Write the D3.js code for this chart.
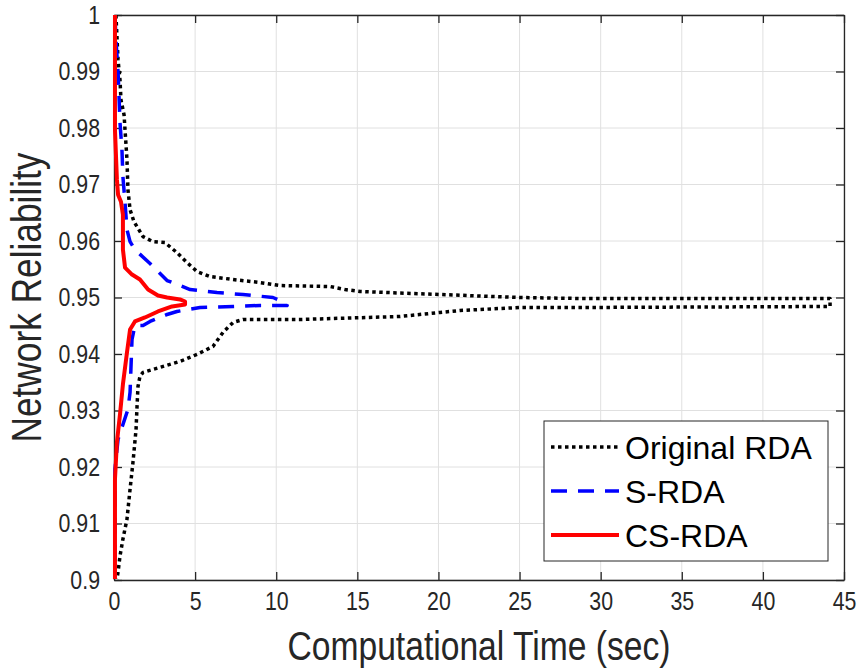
<!DOCTYPE html>
<html>
<head>
<meta charset="utf-8">
<script src="https://cdn.jsdelivr.net/npm/d3@7"></script>
<style>
  body { margin: 0; background: #fff; }
  svg { display: block; font-family: "Liberation Sans", Arial, sans-serif; }
</style>
</head>
<body>
<div id="chart"></div>
<script>
// tick values
const xTickValues = [0, 5, 10, 15, 20, 25, 30, 35, 40, 45];
const yTickValues = [0.9, 0.91, 0.92, 0.93, 0.94, 0.95, 0.96, 0.97, 0.98, 0.99, 1];

const seriesNames = ["Original RDA", "S-RDA", "CS-RDA"];

// original RDA: upper bound out to the end, then lower bound back
const origTime = [0.12, 0.25, 0.37, 0.43, 0.62, 0.68, 0.8, 0.86, 0.99, 1.23, 1.79, 2.4, 3.14, 3.88,
  4.5, 5.12, 5.92, 7.34, 9.0, 10.23, 13.32, 14.24, 15.17, 20.1, 25.03, 28.73, 44.14,
  44.14, 28.73, 25.03, 21.33, 20.1, 17.63, 11.47, 7.95, 7.34, 6.72, 6.1, 5.12, 4.07, 2.84,
  1.79, 1.6, 1.48, 1.42, 1.36, 1.17, 0.99, 0.8, 0.55, 0.37, 0.25, 0.18];
const origRel = [1.0, 0.99205, 0.98852, 0.98498, 0.98233, 0.97968, 0.97438, 0.96908, 0.96555,
  0.96343, 0.96078, 0.95989, 0.95972, 0.95795, 0.95618, 0.95459, 0.95371, 0.95318, 0.95265,
  0.95212, 0.95194, 0.95141, 0.95106, 0.95053, 0.95, 0.94982, 0.94982,
  0.94841, 0.94823, 0.94823, 0.9477, 0.94735, 0.94664, 0.94611, 0.94611, 0.94558, 0.94382,
  0.94134, 0.93993, 0.93869, 0.93763, 0.93675, 0.93604, 0.93428, 0.93074, 0.92668, 0.92085,
  0.91608, 0.91078, 0.90724, 0.90424, 0.90141, 0.90018];

// S-RDA
const sTime = [0.06, 0.12, 0.25, 0.31, 0.37, 0.49, 0.55, 0.68, 0.8, 0.99, 1.29, 2.22, 3.27, 4.69,
  6.35, 7.95, 9.8, 10.54, 10.67, 9.0, 7.34, 5.3, 3.88, 3.27, 2.22, 1.79, 1.29, 1.11, 0.99,
  0.86, 0.25, 0.06, 0.06];
const sRel = [1.0, 0.99558, 0.98993, 0.98551, 0.98092, 0.97615, 0.97138, 0.96678, 0.96201,
  0.95989, 0.95848, 0.95601, 0.953, 0.95141, 0.95088, 0.95053, 0.95, 0.94912, 0.94859,
  0.94859, 0.94841, 0.94823, 0.94753, 0.947, 0.94576, 0.94505, 0.94505, 0.94258, 0.93322,
  0.93021, 0.92491, 0.91961, 0.90018];

// CS-RDA
const csTime = [0.06, 0.06, 0.18, 0.25, 0.43, 0.55, 0.55, 0.68, 1.11, 1.6, 2.1, 2.71, 3.27, 4.07,
  4.38, 4.38, 3.58, 2.71, 1.91, 1.29, 0.99, 0.8, 0.55, 0.37, 0.18, 0.06, 0.06];
const csRel = [1.0, 0.97968, 0.97085, 0.9682, 0.96696, 0.96466, 0.95848, 0.9553, 0.95406,
  0.95318, 0.95141, 0.95035, 0.95, 0.94965, 0.94929, 0.94876, 0.94841, 0.94753, 0.94647,
  0.94576, 0.94435, 0.94028, 0.93463, 0.92933, 0.92438, 0.91784, 0.90018];

const width = 865;
const height = 671;
const margin = { top: 15, right: 21, bottom: 91, left: 114 };
const visWidth = width - margin.left - margin.right;
const visHeight = height - margin.top - margin.bottom;

const axisColor = "#262626";
// axis texts in the reference are a condensed face; squeeze them
const squeeze = 0.82;
const condense = (sel) =>
  sel.each(function () {
    const w = this.getComputedTextLength();
    d3.select(this).attr("textLength", w * squeeze).attr("lengthAdjust", "spacingAndGlyphs");
  });

// scales
const x = d3.scaleLinear().domain([0, 45]).range([0, visWidth]);
const y = d3.scaleLinear().domain([0.9, 1]).range([visHeight, 0]);

const svg = d3
  .select("#chart")
  .append("svg")
  .attr("width", width)
  .attr("height", height);

const g = svg
  .append("g")
  .attr("transform", `translate(${margin.left}, ${margin.top})`);

// grid
g.append("g")
  .selectAll("line")
  .data(xTickValues)
  .join("line")
  .attr("stroke", "#e0e0e0")
  .attr("x1", (d) => x(d))
  .attr("x2", (d) => x(d))
  .attr("y1", 0)
  .attr("y2", visHeight);

g.append("g")
  .selectAll("line")
  .data(yTickValues)
  .join("line")
  .attr("stroke", "#e0e0e0")
  .attr("x1", 0)
  .attr("x2", visWidth)
  .attr("y1", (d) => y(d))
  .attr("y2", (d) => y(d));

// axes, ticks pointing inward like matlab
const tickLen = 8;
const styleAxis = (sel) => {
  sel.select(".domain").attr("stroke", axisColor).attr("stroke-width", 1.3);
  sel.selectAll(".tick line").attr("stroke", axisColor).attr("stroke-width", 1.3);
  sel.selectAll(".tick text").attr("fill", axisColor).attr("font-size", 26)
    .attr("font-family", '"Liberation Sans", Arial, sans-serif')
    .call(condense);
};

g.append("g")
  .attr("transform", `translate(0,${visHeight})`)
  .call(d3.axisBottom(x).tickValues(xTickValues).tickSize(-tickLen).tickPadding(12).tickSizeOuter(0))
  .call(styleAxis);

g.append("g")
  .call(d3.axisTop(x).tickValues(xTickValues).tickSize(-tickLen).tickFormat("").tickSizeOuter(0))
  .call(styleAxis);

g.append("g")
  .call(d3.axisLeft(y).tickValues(yTickValues).tickSize(-tickLen).tickPadding(14)
    .tickFormat(d3.format("~g")).tickSizeOuter(0))
  .call(styleAxis);

g.append("g")
  .attr("transform", `translate(${visWidth},0)`)
  .call(d3.axisRight(y).tickValues(yTickValues).tickSize(-tickLen).tickFormat("").tickSizeOuter(0))
  .call(styleAxis);

// axis titles
g.append("text")
  .attr("x", visWidth / 2)
  .attr("y", visHeight + 80)
  .attr("text-anchor", "middle")
  .attr("fill", axisColor)
  .attr("font-size", 41)
  .text("Computational Time (sec)")
  .call(condense);

g.append("text")
  .attr("transform", `translate(${-73},${visHeight / 2}) rotate(-90)`)
  .attr("text-anchor", "middle")
  .attr("fill", axisColor)
  .attr("font-size", 43)
  .text("Network Reliability")
  .call(condense);

// lines
const series = [
  { name: seriesNames[0], t: origTime, r: origRel, color: "#000000", width: 3.5, dash: "3.5,3.5" },
  { name: seriesNames[1], t: sTime, r: sRel, color: "#0000ff", width: 3.5, dash: "16,11" },
  { name: seriesNames[2], t: csTime, r: csRel, color: "#ff0000", width: 4, dash: null },
];

const line = d3
  .line()
  .x((d) => x(d[0]))
  .y((d) => y(d[1]));

g.append("g")
  .selectAll("path")
  .data(series)
  .join("path")
  .attr("fill", "none")
  .attr("stroke", (d) => d.color)
  .attr("stroke-width", (d) => d.width)
  .attr("stroke-dasharray", (d) => d.dash)
  .attr("stroke-linejoin", "round")
  .attr("d", (d) => line(d3.zip(d.t, d.r)));

// legend
const legend = svg.append("g").attr("transform", "translate(544,421)");

legend
  .append("rect")
  .attr("width", 284)
  .attr("height", 140)
  .attr("fill", "#fff")
  .attr("stroke", axisColor)
  .attr("stroke-width", 1);

const rows = legend
  .selectAll("g.row")
  .data(series)
  .join("g")
  .attr("class", "row")
  .attr("transform", (d, i) => `translate(0,${26 + i * 44})`);

rows
  .append("line")
  .attr("x1", 7)
  .attr("x2", 75)
  .attr("stroke", (d) => d.color)
  .attr("stroke-width", (d) => d.width)
  .attr("stroke-dasharray", (d) => d.dash);

rows
  .append("text")
  .attr("x", 81)
  .attr("y", 12)
  .attr("font-size", 32)
  .attr("fill", "#000")
  .text((d) => d.name);
</script>
</body>
</html>
